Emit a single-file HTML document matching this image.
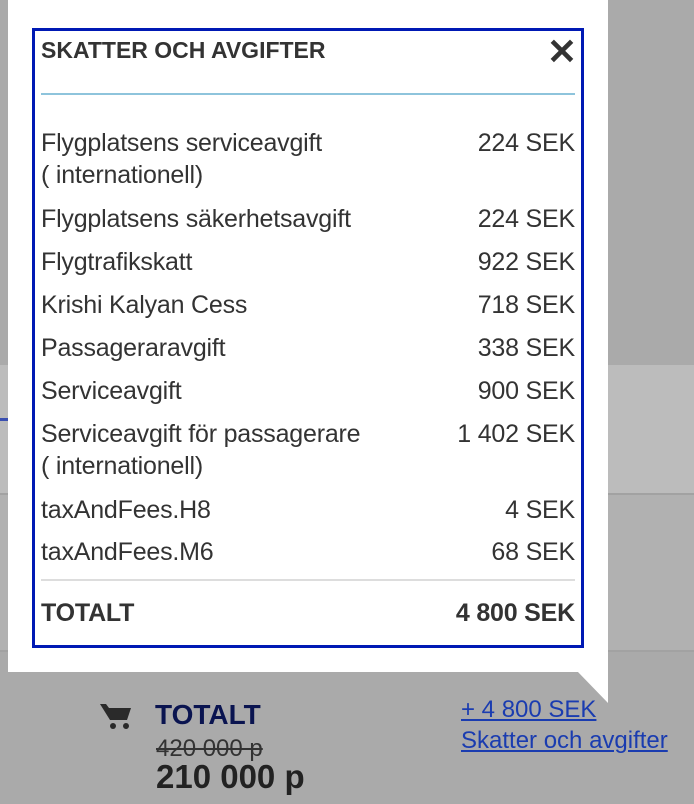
<!DOCTYPE html>
<html><head><meta charset="utf-8"><style>
body{margin:0;width:694px;height:804px;position:relative;overflow:hidden;background:#aaa;font-family:"Liberation Sans",sans-serif;}
.bg{position:absolute;left:0;right:0}
.pop{position:absolute;left:8px;top:0;width:600px;height:672px;background:#fff}
.tail{position:absolute;left:577px;top:671px;width:0;height:0;border-top:32px solid #fff;border-left:31px solid transparent}
.box{position:absolute;left:32px;top:28px;width:546px;height:614px;border:3px solid #0019b4;color:#333}
.t{position:absolute;left:6px;top:6px;font-weight:bold;font-size:23px}
.x{position:absolute;right:4px;top:0px;font-size:36px;font-weight:bold;color:#333}
.hl{position:absolute;left:6px;right:6px;top:62px;height:2px;background:#8ec4dc}
.row{position:absolute;left:6px;right:6px;font-size:25px;letter-spacing:-0.2px;line-height:32px;display:flex;justify-content:space-between}
.row span:first-child{width:400px}
.dv{position:absolute;left:6px;right:6px;top:548px;height:2px;background:#ddd}
a{color:#1a3cb0;text-decoration:underline}
</style></head><body>
<div class="bg" style="top:365px;height:128px;background:#bcbcbc"></div>
<div class="bg" style="top:493px;height:2px;background:#a2a2a2"></div>
<div class="bg" style="top:495px;height:155px;background:#b1b1b1"></div>
<div class="bg" style="top:650px;height:2px;background:#a2a2a2"></div>
<div style="position:absolute;left:0;top:418px;width:8px;height:3px;background:#3a4fb0"></div>
<div class="pop"></div><div class="tail"></div>
<div class="box">
<div class="t">SKATTER OCH AVGIFTER</div><div class="x">✕</div>
<div class="hl"></div>
<div class="row" style="top:96px"><span>Flygplatsens serviceavgift<br>( internationell)</span><span>224 SEK</span></div>
<div class="row" style="top:172px"><span>Flygplatsens säkerhetsavgift</span><span>224 SEK</span></div>
<div class="row" style="top:215px"><span>Flygtrafikskatt</span><span>922 SEK</span></div>
<div class="row" style="top:258px"><span>Krishi Kalyan Cess</span><span>718 SEK</span></div>
<div class="row" style="top:301px"><span>Passageraravgift</span><span>338 SEK</span></div>
<div class="row" style="top:344px"><span>Serviceavgift</span><span>900 SEK</span></div>
<div class="row" style="top:387px"><span>Serviceavgift för passagerare<br>( internationell)</span><span>1 402 SEK</span></div>
<div class="row" style="top:463px"><span>taxAndFees.H8</span><span>4 SEK</span></div>
<div class="row" style="top:505px"><span>taxAndFees.M6</span><span>68 SEK</span></div>
<div class="dv"></div>
<div class="row" style="top:566px;font-weight:bold"><span>TOTALT</span><span>4 800 SEK</span></div>
</div>
<svg style="position:absolute;left:100px;top:702px" width="34" height="28" viewBox="0 0 34 28"><path d="M0 2h6l3 4h22l-4 12H10z" fill="#2a2a2a"/><circle cx="13" cy="24" r="3" fill="#2a2a2a"/><circle cx="26" cy="24" r="3" fill="#2a2a2a"/></svg>
<div style="position:absolute;left:155px;top:699px;font-size:28px;font-weight:bold;color:#0a1450">TOTALT</div>
<div style="position:absolute;left:156px;top:735px;font-size:24px;color:#333;text-decoration:line-through">420 000 p</div>
<div style="position:absolute;left:156px;top:758px;font-size:33px;font-weight:bold;color:#222">210 000 p</div>
<div style="position:absolute;left:461px;top:694px;font-size:24px;line-height:31px"><a>+ 4 800 SEK</a><br><a>Skatter och avgifter</a></div>
</body></html>
